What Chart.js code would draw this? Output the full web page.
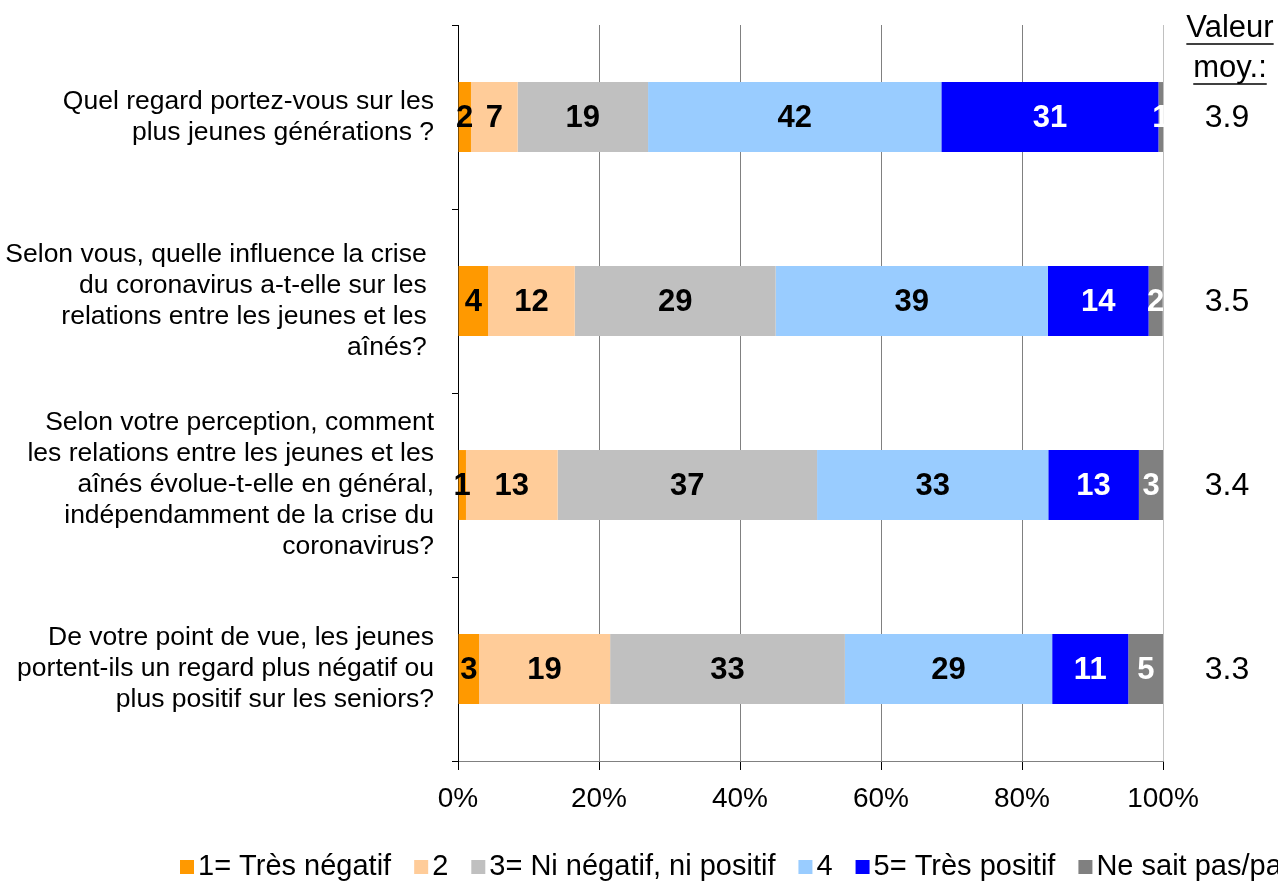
<!DOCTYPE html>
<html>
<head>
<meta charset="utf-8">
<script src="https://cdn.jsdelivr.net/npm/chart.js@4.4.1/dist/chart.umd.min.js"></script>
<style>
  html, body { margin: 0; padding: 0; background: #fff; overflow: hidden; }
  #wrap { width: 1278px; height: 882px; }
</style>
</head>
<body>
<div id="wrap"><canvas id="c" width="1278" height="882"></canvas></div>
<script>
// ---- Data ----
const questions = [
  ["Quel regard portez-vous sur les", "plus jeunes générations ?"],
  ["Selon vous, quelle influence la crise ", "du coronavirus a-t-elle sur les ", "relations entre les jeunes et les ", "aînés? "],
  ["Selon votre perception, comment", "les relations entre les jeunes et les", "aînés évolue-t-elle en général,", "indépendamment de la crise du", "coronavirus?"],
  ["De votre point de vue, les jeunes", "portent-ils un regard plus négatif ou", "plus positif sur les seniors?"]
];
const seriesNames = ["1= Très négatif", "2", "3= Ni négatif, ni positif", "4", "5= Très positif", "Ne sait pas/pas de réponse"];
const tresNegatif = [1.84, 4.26, 1.13, 2.98];
const negatif2    = [6.62, 12.3, 13.0, 18.6];
const neutre3     = [18.5, 28.5, 36.8, 33.3];
const positif4    = [41.6, 38.6, 32.8, 29.4];
const tresPositif = [30.8, 14.3, 12.85, 10.8];
const neSaitPas   = [0.67, 2.0, 3.45, 4.96];
const moyennes    = ["3.9", "3.5", "3.4", "3.3"];
const xTicks      = [0, 20, 40, 60, 80, 100];

const colors = ["#FF9900", "#FFCC99", "#C0C0C0", "#99CCFF", "#0000FF", "#808080"];
const labelColors = ["#000", "#000", "#000", "#000", "#fff", "#fff"];
const FONT = "'Liberation Sans', Arial, sans-serif";

const allSeries = [tresNegatif, negatif2, neutre3, positif4, tresPositif, neSaitPas];
const datasets = allSeries.map((d, i) => ({
  label: seriesNames[i],
  data: d,
  backgroundColor: colors[i],
  borderWidth: 0,
  categoryPercentage: 1,
  barPercentage: 0.38
}));

const valueLabels = {
  id: 'valueLabels',
  afterDatasetsDraw(chart) {
    const ctx = chart.ctx;
    ctx.save();
    ctx.font = "bold 31px " + FONT;
    ctx.textAlign = 'center';
    ctx.textBaseline = 'middle';
    chart.data.datasets.forEach((ds, di) => {
      const meta = chart.getDatasetMeta(di);
      meta.data.forEach((bar, i) => {
        const v = Math.round(ds.data[i]);
        ctx.fillStyle = labelColors[di];
        ctx.fillText(String(v), (bar.x + bar.base) / 2, bar.y + 1);
      });
    });
    ctx.restore();
  }
};

const extras = {
  id: 'extras',
  afterDraw(chart) {
    const ctx = chart.ctx;
    const ys = chart.scales.y;
    ctx.save();
    ctx.fillStyle = '#000';
    ctx.strokeStyle = '#000';
    ctx.font = "31px " + FONT;
    ctx.textAlign = 'center';
    ctx.textBaseline = 'middle';
    const cx = 1230;
    // header, underlined
    [["Valeur", 28], ["moy.:", 68]].forEach(([t, y]) => {
      ctx.fillText(t, cx, y);
      const w = ctx.measureText(t).width;
      ctx.lineWidth = 1.5;
      ctx.beginPath();
      ctx.moveTo(cx - w / 2, y + 16);
      ctx.lineTo(cx + w / 2, y + 16);
      ctx.stroke();
    });
    // averages
    ctx.font = "32px " + FONT;
    moyennes.forEach((m, i) => {
      ctx.fillText(m, 1227, ys.getPixelForValue(i) + 1);
    });
    // legend
    ctx.font = "29px " + FONT;
    let x = 180;
    const yc = 867;
    ctx.textAlign = 'left';
    chart.data.datasets.forEach((ds, i) => {
      ctx.fillStyle = ds.backgroundColor;
      ctx.fillRect(x, yc - 7, 14, 14);
      ctx.fillStyle = '#000';
      ctx.fillText(ds.label, x + 18, yc);
      x += 18 + ctx.measureText(ds.label).width + 23;
    });
    ctx.restore();
  }
};

new Chart(document.getElementById('c'), {
  type: 'bar',
  data: { labels: questions, datasets },
  options: {
    indexAxis: 'y',
    responsive: false,
    animation: false,
    layout: { padding: { left: 0, right: 115, top: 25, bottom: 0 } },
    plugins: { legend: { display: false }, tooltip: { enabled: false } },
    scales: {
      x: {
        stacked: true,
        min: 0, max: 100,
        afterBuildTicks(s) { s.ticks = xTicks.map(v => ({ value: v })); },
        afterFit(s) { s.height = 121; s.paddingLeft = 0; s.paddingRight = 0; },
        ticks: {
          callback: v => v + '%',
          color: '#000',
          font: { family: FONT, size: 28 },
          padding: 12,
          maxRotation: 0
        },
        grid: {
          color: ctx => (ctx.index === 5 ? '#C0C0C0' : '#808080'),
          tickColor: '#000',
          tickLength: 9,
          lineWidth: 1
        },
        border: { color: '#808080', width: 1 }
      },
      y: {
        stacked: true,
        afterFit(s) { s.width = 458; s.paddingTop = 0; s.paddingBottom = 0; },
        ticks: {
          color: '#000',
          font: { family: FONT, size: 26.5, lineHeight: 31 / 26.5 },
          padding: 18,
          crossAlign: 'near',
          autoSkip: false
        },
        grid: {
          offset: true,
          drawOnChartArea: false,
          color: '#000',
          tickLength: 6
        },
        border: { color: '#000', width: 1 }
      }
    }
  },
  plugins: [valueLabels, extras]
});
</script>
</body>
</html>
